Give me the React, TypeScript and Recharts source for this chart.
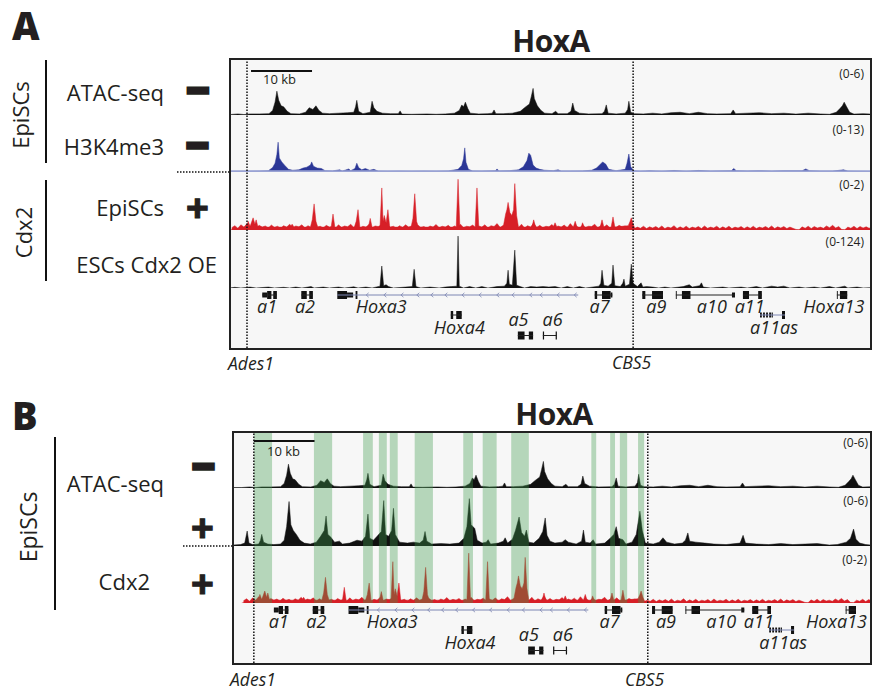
import React from 'react';
import { ComposedChart, Area, Scatter, XAxis, YAxis, ReferenceArea, ReferenceLine } from 'recharts';

// ---- data (x positions in kb from Ades1) ----

// ATAC-seq, EpiSCs, no Cdx2 (0-6)
const ATAC_MINUS: [number, number][] = [
  [-4.5, 0.05], [-2.8, 0.05], [-1.5, 0.12], [-0.5, 0.05], [0.5, 0.12], [2.0, 0.12], [3.6, 0.15], [4.2, 0.5], [4.6, 1.4],
  [4.9, 2.6], [5.2, 1.6], [5.6, 1.0], [6.0, 0.9], [6.6, 0.4], [7.2, 0.15], [8.6, 0.12], [9.6, 0.3], [10.2, 0.8],
  [10.8, 0.6], [11.3, 1.0], [11.8, 0.5], [12.4, 0.2], [13.5, 0.15], [15.0, 0.2], [16.5, 0.25], [17.5, 0.3],
  [17.8, 0.9], [18.0, 1.6], [18.3, 0.4], [19.0, 0.15], [20.2, 0.3], [20.5, 1.5], [20.8, 0.8], [21.3, 0.4],
  [22.2, 0.2], [23.5, 0.15], [24.8, 0.15], [25.1, 0.45], [25.4, 0.1], [27.0, 0.08], [29.5, 0.12], [31.0, 0.08],
  [32.5, 0.12], [34.0, 0.2], [34.8, 0.5], [35.2, 1.1], [35.5, 0.9], [35.8, 1.4], [36.2, 0.7], [36.6, 0.2],
  [38.0, 0.12], [39.5, 0.15], [40.2, 0.2], [40.5, 0.55], [40.8, 0.15], [42.0, 0.15], [43.5, 0.2], [44.8, 0.4],
  [45.5, 0.8], [46.3, 1.2], [46.6, 2.0], [46.9, 2.9], [47.1, 1.8], [47.6, 1.0], [48.2, 0.5], [48.8, 0.2],
  [50.0, 0.15], [50.6, 0.4], [51.0, 0.15], [52.5, 0.15], [53.1, 0.4], [53.4, 1.3], [53.7, 0.5], [54.5, 0.2],
  [56.0, 0.12], [58.2, 0.15], [58.6, 0.4], [58.9, 1.1], [59.2, 0.2], [60.5, 0.12], [62.0, 0.2], [62.4, 0.6],
  [62.6, 1.5], [62.9, 0.3], [63.5, 0.15], [65.0, 0.12], [66.5, 0.2], [68.0, 0.12], [69.5, 0.25], [71.0, 0.3],
  [72.5, 0.15], [74.0, 0.3], [75.5, 0.15], [77.0, 0.12], [79.3, 0.15], [79.7, 0.55], [80.1, 0.15], [82.0, 0.2],
  [84.0, 0.25], [86.0, 0.15], [88.0, 0.2], [90.0, 0.1], [92.0, 0.2], [94.0, 0.12], [95.5, 0.08], [96.6, 0.3],
  [97.2, 0.7], [97.6, 1.0], [97.9, 1.4], [98.3, 0.9], [98.8, 0.3], [99.5, 0.1], [101.0, 0.15], [102.5, 0.1],
];

// H3K4me3, EpiSCs (0-13)
const H3K4ME3: [number, number][] = [
  [-2.8, 0.1], [0, 0.15], [2.0, 0.2], [3.5, 0.3], [4.2, 1.0], [4.6, 2.0], [4.9, 4.0], [5.1, 6.8], [5.3, 3.2],
  [5.7, 2.3], [6.2, 1.5], [6.8, 0.6], [7.5, 0.4], [8.5, 0.5], [9.2, 0.9], [9.8, 1.1], [10.4, 1.6], [10.6, 2.3],
  [10.9, 1.3], [11.5, 0.9], [12.2, 0.8], [12.8, 0.3], [14.0, 0.25], [15.2, 0.5], [15.6, 0.2], [16.7, 0.7],
  [17.0, 0.3], [17.7, 0.8], [18.0, 2.0], [18.3, 1.0], [18.8, 0.5], [19.4, 0.8], [20.1, 0.4], [20.8, 0.6],
  [21.5, 0.2], [23.0, 0.15], [25.0, 0.2], [27.0, 0.15], [29.0, 0.2], [31.0, 0.15], [33.0, 0.25], [34.6, 0.6],
  [35.2, 1.5], [35.5, 3.0], [35.7, 5.5], [35.9, 2.2], [36.3, 0.6], [37.0, 0.25], [38.5, 0.2], [40.7, 0.3],
  [41.0, 0.7], [41.3, 0.25], [43.0, 0.3], [44.5, 0.5], [45.3, 1.2], [45.9, 2.6], [46.2, 4.3], [46.5, 3.8],
  [46.9, 1.6], [47.4, 0.9], [48.0, 0.6], [48.8, 0.4], [50.2, 0.3], [51.0, 0.5], [51.5, 0.2], [53.0, 0.2],
  [55.0, 0.25], [56.5, 0.4], [57.3, 0.9], [57.8, 1.6], [58.3, 2.3], [58.8, 1.8], [59.3, 0.6], [60.5, 0.3],
  [62.0, 0.6], [62.3, 2.0], [62.6, 4.1], [62.9, 1.2], [63.4, 0.3], [64.5, 0.15], [66.0, 0.3], [68.0, 0.15],
  [70.0, 0.35], [72.0, 0.15], [74.0, 0.35], [76.0, 0.2], [79.4, 0.3], [79.8, 0.8], [80.2, 0.3], [82.0, 0.25],
  [84.0, 0.3], [86.0, 0.2], [88.0, 0.3], [91.0, 0.3], [91.6, 0.7], [92.2, 0.3], [94.0, 0.2], [96.0, 0.2],
  [97.8, 0.5], [98.5, 0.2], [100.0, 0.15], [102.5, 0.1],
];

// Cdx2 ChIP in EpiSCs (0-2): background in 0.5 kb bins from -2.5 kb, then peaks
const CDX2_FLOOR_START = -2.5;
const CDX2_FLOOR_STEP = 0.5;
const CDX2_FLOOR: number[] = [
  0.08, 0.15, 0.06, 0.18, 0.1, 0.22, 0.12, 0.2, 0.08, 0.16,
  0.1, 0.14, 0.07, 0.17, 0.09, 0.13, 0.06, 0.15, 0.1, 0.2,
  0.08, 0.14, 0.11, 0.18, 0.07, 0.15, 0.09, 0.2, 0.1, 0.13,
  0.07, 0.16, 0.1, 0.12, 0.06, 0.18, 0.09, 0.14, 0.11, 0.2,
  0.09, 0.15, 0.07, 0.13, 0.1, 0.19, 0.08, 0.14, 0.12, 0.17,
  0.08, 0.16, 0.1, 0.13, 0.06, 0.15, 0.09, 0.18, 0.1, 0.14,
  0.07, 0.17, 0.09, 0.12, 0.06, 0.14, 0.1, 0.19, 0.08, 0.13,
  0.1, 0.16, 0.07, 0.14, 0.09, 0.2, 0.08, 0.13, 0.11, 0.17,
  0.08, 0.14, 0.1, 0.18, 0.07, 0.15, 0.12, 0.22, 0.09, 0.16,
  0.1, 0.18, 0.08, 0.14, 0.09, 0.2, 0.07, 0.15, 0.1, 0.24,
  0.09, 0.16, 0.08, 0.13, 0.11, 0.19, 0.07, 0.14, 0.1, 0.17,
  0.08, 0.22, 0.1, 0.14, 0.07, 0.16, 0.09, 0.13, 0.12, 0.2,
  0.08, 0.15, 0.1, 0.18, 0.07, 0.13, 0.09, 0.16, 0.11, 0.14,
  0.07, 0.12, 0.05, 0.1, 0.06, 0.13, 0.05, 0.11, 0.07, 0.12,
  0.06, 0.14, 0.05, 0.1, 0.07, 0.15, 0.05, 0.11, 0.06, 0.13,
  0.05, 0.1, 0.07, 0.12, 0.05, 0.14, 0.06, 0.1, 0.07, 0.13,
  0.05, 0.11, 0.06, 0.13, 0.05, 0.1, 0.07, 0.12, 0.05, 0.11,
  0.06, 0.13, 0.05, 0.1, 0.07, 0.12, 0.06, 0.14, 0.05, 0.11,
  0.07, 0.12, 0.05, 0.1, 0.06, 0.02, 0.01, 0.11, 0.06, 0.13,
  0.05, 0.12, 0.07, 0.1, 0.06, 0.14, 0.08, 0.16, 0.07, 0.12,
  0.02, 0.01, 0.1, 0.06, 0.13, 0.05, 0.12, 0.07, 0.11, 0.06,
  0.12, 0.08,
];
const CDX2_PEAKS: [number, number][] = [
  [-2.8, 0], [-0.1, 0.1], [0.2, 0.3], [0.5, 0.12], [1.0, 0.42], [1.3, 0.2], [1.5, 0.35], [1.8, 0.1],
  [7.1, 0.1], [7.4, 0.2], [7.7, 0.1], [10.4, 0.1], [10.7, 0.35], [11.0, 0.9], [11.3, 0.3], [11.6, 0.1],
  [13.8, 0.1], [14.1, 0.55], [14.4, 0.1], [17.6, 0.1], [17.9, 0.3], [18.2, 0.7], [18.5, 0.1],
  [19.9, 0.1], [20.2, 0.4], [20.5, 0.1], [21.8, 0.1], [22.1, 1.45], [22.3, 0.3], [22.5, 0.5], [22.8, 0.25],
  [23.1, 0.7], [23.4, 0.1], [26.9, 0.1], [27.2, 0.4], [27.5, 1.25], [27.8, 0.3], [28.1, 0.1],
  [34.3, 0.1], [34.6, 1.75], [34.9, 0.1], [37.4, 0.1], [37.7, 1.45], [38.0, 0.1],
  [42.0, 0.1], [42.4, 0.55], [42.6, 0.7], [42.8, 0.95], [43.1, 0.6], [43.4, 0.5], [43.7, 0.7], [43.9, 1.6],
  [44.2, 0.5], [44.5, 0.1], [46.7, 0.1], [47.0, 0.35], [47.3, 0.1], [50.2, 0.1], [50.5, 0.25], [50.8, 0.1],
  [53.5, 0.1], [53.8, 0.3], [54.1, 0.1], [54.8, 0.1], [55.0, 0.25], [55.3, 0.1], [57.9, 0.1], [58.2, 0.35],
  [58.5, 0.1], [59.7, 0.1], [60.0, 0.45], [60.3, 0.1], [62.5, 0.15], [62.8, 0.3], [63.0, 0.42], [63.3, 0.2],
  [63.6, 0.05], [64.0, 0], [102.5, 0],
];

// Cdx2 ChIP in ESCs, Cdx2 overexpression (0-124)
const CDX2_OE: [number, number][] = [
  [-2.8, 0], [-2, 1.5], [-1, 0], [0.5, 2], [1.5, 0], [3.5, 2], [4.5, 0], [6, 1.5], [7, 0], [8, 2], [9, 0],
  [10.5, 3], [11, 0], [12.5, 2], [13.5, 0], [15, 2], [16, 0], [17.5, 2.5], [18.2, 0], [19.5, 2], [20.5, 0],
  [21.8, 4], [22.1, 47], [22.4, 5], [22.8, 7], [23.2, 3], [24, 0], [26, 2], [27.1, 3], [27.4, 40], [27.7, 3],
  [28.5, 0], [30, 2], [31.5, 0], [32.5, 2], [33.5, 3], [34.4, 4], [34.6, 111], [34.8, 4], [35.5, 0], [36.5, 3],
  [37.5, 0], [38.5, 3], [39.5, 0], [41, 3], [42.2, 4], [42.6, 10], [42.8, 38], [43.0, 8], [43.5, 6], [43.9, 81],
  [44.2, 6], [44.8, 3], [45.5, 0], [46.5, 3], [47.5, 2], [48.5, 3], [49.5, 2], [50.5, 3], [51.5, 0], [52.5, 3],
  [53.5, 0], [54.5, 3], [55.5, 0], [57.7, 4], [58.0, 10], [58.2, 38], [58.5, 6], [59.2, 4], [59.8, 10],
  [60.0, 49], [60.3, 5], [61.2, 3], [61.6, 10], [61.8, 19], [62.0, 4], [62.7, 8], [63.0, 51], [63.3, 10],
  [64.0, 3], [64.6, 11], [64.9, 2], [65.5, 3], [66.5, 2], [67.5, 0], [68.5, 2], [69.5, 0], [71.5, 3], [72.5, 7],
  [73.0, 2], [74.2, 5], [74.5, 11], [74.8, 2], [76, 0], [78, 2], [79, 0], [81, 2], [82, 0], [83.5, 3], [84.5, 0],
  [86, 4], [87, 2], [88, 4], [89, 0], [90.5, 2], [91.5, 0], [93, 2], [94, 0], [95.5, 3], [96.5, 0], [98, 4],
  [98.5, 0], [100, 2], [101, 0], [102.5, 1],
];

// ATAC-seq, EpiSCs with Cdx2 (0-6)
const ATAC_PLUS: [number, number][] = [
  [-4.5, 0.1], [-3, 0.15], [-2.3, 0.3], [-1.9, 1.55], [-1.6, 0.3], [-1, 0.15], [0, 0.2], [0.3, 0.6], [0.5, 1.2],
  [0.8, 0.4], [1.5, 0.2], [2.5, 0.15], [3.6, 0.2], [4.2, 0.6], [4.6, 2.0], [5.0, 4.6], [5.3, 2.2], [5.7, 1.6],
  [6.2, 1.2], [6.8, 0.6], [7.5, 0.3], [8.5, 0.2], [9.5, 0.4], [10.2, 1.0], [10.8, 1.6], [11.1, 3.1], [11.4, 1.2],
  [11.9, 0.9], [12.5, 0.4], [13.3, 0.5], [13.8, 0.2], [15, 0.3], [16.2, 0.6], [17.0, 0.5], [17.6, 1.0],
  [18.0, 3.3], [18.3, 0.8], [18.9, 0.6], [19.5, 1.0], [20.2, 1.5], [20.6, 4.7], [20.9, 1.2], [21.4, 1.0],
  [21.9, 1.6], [22.2, 3.9], [22.5, 1.2], [23.2, 0.4], [24.5, 0.3], [25.5, 0.4], [26.5, 0.3], [27.1, 0.6],
  [27.4, 1.5], [27.7, 0.5], [28.5, 0.2], [30, 0.25], [31.5, 0.2], [33.0, 0.3], [33.8, 0.8], [34.3, 2.0],
  [34.7, 4.9], [35.0, 2.2], [35.6, 1.8], [36.0, 0.6], [36.8, 0.3], [37.5, 0.4], [37.8, 0.65], [38.2, 0.2],
  [39.5, 0.3], [40.3, 0.5], [40.6, 0.85], [41.0, 0.3], [41.8, 0.7], [42.3, 1.6], [42.9, 3.0], [43.3, 1.4],
  [43.8, 1.0], [44.1, 1.65], [44.5, 0.4], [45.3, 0.3], [46.2, 0.8], [46.8, 1.5], [47.2, 2.9], [47.5, 1.1],
  [48.0, 0.5], [48.8, 0.3], [50.0, 0.4], [50.5, 0.65], [51.0, 0.4], [52.3, 0.2], [53.2, 0.5], [53.5, 1.65],
  [53.8, 0.4], [54.6, 0.3], [55.1, 0.65], [55.5, 0.2], [57.0, 0.3], [57.9, 0.8], [58.5, 1.2], [58.9, 2.0],
  [59.3, 0.8], [60.0, 0.65], [60.5, 0.2], [61.5, 0.4], [62.2, 1.2], [62.5, 2.4], [62.8, 3.6], [63.2, 1.6],
  [63.7, 0.3], [65.0, 0.2], [66.0, 0.4], [66.6, 0.85], [67.2, 0.4], [68.5, 0.2], [69.8, 0.3], [70.3, 0.6],
  [70.7, 1.35], [71.0, 0.5], [72.0, 0.4], [73.5, 0.3], [75, 0.2], [77, 0.15], [79.3, 0.3], [79.8, 1.1],
  [80.2, 0.3], [82, 0.2], [84, 0.15], [86, 0.25], [88, 0.15], [90, 0.2], [92, 0.25], [94, 0.1], [95.3, 0.15],
  [96.8, 0.4], [97.5, 0.8], [98.0, 1.75], [98.4, 0.7], [99, 0.3], [100, 0.15], [101, 0.1],
];

// Cdx2-bound regions highlighted in panel B [from, to]
const HIGHLIGHTS: [number, number][] = [
  [-0.8, 2.2], [9.1, 12.1], [17.2, 18.8], [19.8, 21.1], [21.6, 22.9], [25.7, 28.7], [33.7, 35.3],
  [36.9, 39.2], [41.6, 44.5], [54.8, 55.6], [57.9, 58.7], [59.5, 60.7], [62.5, 63.5],
];

const LANDMARKS_A = { Ades1: 0, CBS5: 63.3 };
const LANDMARKS_B = { Ades1: -0.8, CBS5: 64.1 };
const SCALE_BAR_KB = 10;

// gene models: row, extent, blocks [from, to, kind] (c coding, u utr, t tick)
const GENES = [
  { name: 'a1', row: 0, from: 2.5, to: 4.9, exons: [[2.5, 3.3, 'u'], [3.3, 4.0, 'c'], [4.3, 4.9, 'c']] },
  { name: 'a2', row: 0, from: 8.9, to: 10.8, exons: [[8.9, 9.8, 'c'], [10.2, 10.8, 'c']] },
  { name: 'Hoxa3', row: 0, from: 14.8, to: 54.3, exons: [[14.8, 16.4, 'c'], [16.4, 17.4, 'u'], [17.8, 18.1, 'c']] },
  { name: 'Hoxa4', row: 1, from: 33.4, to: 35.2, exons: [[33.4, 33.8, 'c'], [34.3, 35.2, 'c']] },
  { name: 'a5', row: 2, from: 44.4, to: 46.9, exons: [[44.4, 45.5, 'c'], [46.2, 46.9, 'c']] },
  { name: 'a6', row: 2, from: 48.5, to: 50.8, exons: [[48.5, 48.7, 't'], [50.6, 50.8, 't']] },
  { name: 'a7', row: 0, from: 57.0, to: 59.9, exons: [[57.0, 57.4, 'c'], [58.2, 59.6, 'c'], [59.6, 59.9, 'u']] },
  { name: 'a9', row: 0, from: 64.8, to: 68.2, exons: [[64.8, 65.3, 'c'], [66.4, 68.2, 'c']] },
  { name: 'a10', row: 0, from: 70.3, to: 80.0, exons: [[70.3, 70.45, 't'], [71.3, 72.7, 'c'], [79.5, 80.0, 'u']] },
  { name: 'a11', row: 0, from: 81.3, to: 84.4, exons: [[81.3, 82.3, 'c'], [83.8, 84.4, 'c']] },
  { name: 'a11as', row: 1, from: 84.1, to: 88.2, exons: [[84.1, 84.4, 'u'], [84.6, 84.9, 'u'], [85.1, 85.4, 'u'], [85.6, 85.9, 'u'], [86.0, 86.2, 'u'], [87.7, 88.2, 'c']] },
  { name: 'Hoxa13', row: 0, from: 96.7, to: 98.4, exons: [[96.7, 96.85, 't'], [97.2, 98.4, 'c']] },
];
const HOXA3_ARROWS = [19.7, 22.6, 25.4, 28.0, 30.3, 32.6, 35.4, 38.2, 41.1, 43.6, 46.5, 48.2, 51.0, 53.8];
const GENE_LABELS = [
  { name: 'a1', x: 3.3, lane: 0 }, { name: 'a2', x: 9.5, lane: 0 }, { name: 'Hoxa3', x: 22.0, lane: 0 },
  { name: 'Hoxa4', x: 34.8, lane: 1 }, { name: 'a5', x: 44.5, lane: 2 }, { name: 'a6', x: 50.1, lane: 2 },
  { name: 'a7', x: 57.8, lane: 0 }, { name: 'a9', x: 67.1, lane: 0 }, { name: 'a10', x: 76.2, lane: 0 },
  { name: 'a11', x: 82.4, lane: 0 }, { name: 'a11as', x: 86.4, lane: 1 }, { name: 'Hoxa13', x: 96.2, lane: 0 },
];

// ---- layout / style ----
const FONT = '"Open Sans", "DejaVu Sans", sans-serif';
const INK = '#231f20';
const RED = '#d71f27';
const BLUE = '#2b3797';
const ROW_Y = [7, 27, 47.5];
const LANE_BASE = [25, 46, 38];
const EXON_H: Record<string, number> = { c: 8, u: 5, t: 8 };
const THIN_GENES = ['Hoxa3', 'a11as'];
const NOMARGIN = { top: 0, right: 0, bottom: 0, left: 0 };
const LABEL_PX = 18;

const pts = (a: [number, number][]) => a.map(([x, y]) => ({ x, y }));
const CDX2_FLOOR_PTS = CDX2_FLOOR.map((y, i) => ({ x: CDX2_FLOOR_START + i * CDX2_FLOOR_STEP, y }));

const PANEL_A = {
  left: 231, right: 870, top: 60, bottom: 348, px0: 247, ppk: 6.1, marks: LANDMARKS_A,
  scaleStart: 0.66, scaleY: 11, bandBottom: 0,
  tracks: [
    { top: 60, bottom: 115, yMax: 6, series: [{ data: pts(ATAC_MINUS), color: '#111' }] },
    { top: 115, bottom: 172, yMax: 13, series: [{ data: pts(H3K4ME3), color: BLUE }], base: '#9aa3d4' },
    { top: 172, bottom: 230, yMax: 2, series: [{ data: CDX2_FLOOR_PTS, color: RED }, { data: pts(CDX2_PEAKS), color: RED }] },
    { top: 230, bottom: 288, yMax: 124, series: [{ data: pts(CDX2_OE), color: '#111' }] },
  ],
  genesTop: 288,
};
const PANEL_B = {
  left: 234, right: 870, top: 433, bottom: 663, px0: 258.7, ppk: 6.07, marks: LANDMARKS_B,
  scaleStart: -0.8, scaleY: 8, bandBottom: 170,
  tracks: [
    { top: 433, bottom: 488, yMax: 6, series: [{ data: pts(ATAC_MINUS), color: '#111' }] },
    { top: 488, bottom: 546, yMax: 6, series: [{ data: pts(ATAC_PLUS), color: '#111' }] },
    { top: 546, bottom: 603, yMax: 2, series: [{ data: CDX2_FLOOR_PTS, color: RED }, { data: pts(CDX2_PEAKS), color: RED }] },
  ],
  genesTop: 603,
};

type PanelT = typeof PANEL_A;

const domainOf = (p: PanelT): [number, number] => [(p.left - p.px0) / p.ppk, (p.right - p.px0) / p.ppk];

function Track({ p, t }: { p: PanelT; t: any }) {
  const dom = domainOf(p);
  return (
    <div style={{ position: 'absolute', left: p.left, top: t.top }}>
      <ComposedChart width={p.right - p.left} height={t.bottom - t.top} margin={NOMARGIN}>
        <XAxis type="number" dataKey="x" domain={dom} hide allowDataOverflow />
        <YAxis type="number" domain={[0, t.yMax]} hide allowDataOverflow />
        {t.base && <ReferenceLine y={t.yMax * 0.015} stroke={t.base} strokeWidth={2} />}
        {t.series.map((s: any, i: number) => (
          <Area key={i} data={s.data} dataKey="y" type="linear" stroke={s.color} strokeWidth={0.5}
            fill={s.color} fillOpacity={1} dot={false} activeDot={false} isAnimationActive={false} />
        ))}
      </ComposedChart>
    </div>
  );
}

// italic gene name; kept inside the box when it would run past the right edge
const makeGeneLabel = (chartW: number) => (props: any) => {
  const name: string = props.payload.name;
  const half = name.length * LABEL_PX * 0.29;
  const atEdge = props.cx + half > chartW - 2;
  return (
    <text x={atEdge ? chartW - 3 : props.cx} y={props.cy} textAnchor={atEdge ? 'end' : 'middle'}
      fontFamily={FONT} fontStyle="italic" fontSize={LABEL_PX} fill={INK}>
      {name}
    </text>
  );
};
const chevron = (props: any) => (
  <path d={`M${props.cx + 1.5},${props.cy - 2.2}L${props.cx - 1},${props.cy}L${props.cx + 1.5},${props.cy + 2.2}`}
    stroke="#7d86b3" strokeWidth={0.8} fill="none" />
);

function Genes({ p }: { p: PanelT }) {
  const dom = domainOf(p);
  const w = p.right - p.left;
  const h = p.bottom - p.genesTop;
  const labels = GENE_LABELS.map((l) => ({ x: l.x, y: LANE_BASE[l.lane], name: l.name }));
  const arrows = HOXA3_ARROWS.map((x) => ({ x, y: ROW_Y[0] }));
  return (
    <div style={{ position: 'absolute', left: p.left, top: p.genesTop }}>
      <ComposedChart width={w} height={h} margin={NOMARGIN}>
        <XAxis type="number" dataKey="x" domain={dom} hide allowDataOverflow />
        <YAxis type="number" dataKey="y" domain={[0, h]} reversed hide allowDataOverflow />
        {GENES.map((g) => (
          <ReferenceLine key={g.name} segment={[{ x: g.from, y: ROW_Y[g.row] }, { x: g.to, y: ROW_Y[g.row] }]}
            stroke={THIN_GENES.includes(g.name) ? '#7d86b3' : '#222'} strokeWidth={1} />
        ))}
        {GENES.flatMap((g) =>
          g.exons.map(([a, b, k]: any, i: number) => (
            <ReferenceArea key={g.name + i} x1={a} x2={b} y1={ROW_Y[g.row] - EXON_H[k] / 2} y2={ROW_Y[g.row] + EXON_H[k] / 2}
              fill="#111" fillOpacity={1} stroke="none" />
          ))
        )}
        <Scatter data={arrows} dataKey="y" shape={chevron} isAnimationActive={false} />
        <Scatter data={labels} dataKey="y" shape={makeGeneLabel(w)} isAnimationActive={false} />
      </ComposedChart>
    </div>
  );
}

function Overlay({ p, bands }: { p: PanelT; bands: [number, number][] }) {
  const dom = domainOf(p);
  const h = p.bottom - p.top;
  return (
    <div style={{ position: 'absolute', left: p.left, top: p.top }}>
      <ComposedChart width={p.right - p.left} height={h} margin={NOMARGIN} data={[{ x: dom[0], y: 0 }, { x: dom[1], y: h }]}>
        <XAxis type="number" dataKey="x" domain={dom} hide allowDataOverflow />
        <YAxis type="number" dataKey="y" domain={[0, h]} reversed hide allowDataOverflow />
        {bands.map(([a, b], i) => (
          <ReferenceArea key={i} x1={a} x2={b} y1={0} y2={p.bandBottom} fill="#3f9a4e" fillOpacity={0.36} stroke="none" />
        ))}
        <ReferenceLine x={p.marks.Ades1} stroke="#111" strokeWidth={1.5} strokeDasharray="1.5 1.5" />
        <ReferenceLine x={p.marks.CBS5} stroke="#111" strokeWidth={1.5} strokeDasharray="1.5 1.5" />
        <ReferenceLine segment={[{ x: p.scaleStart, y: p.scaleY }, { x: p.scaleStart + SCALE_BAR_KB, y: p.scaleY }]}
          stroke="#111" strokeWidth={2} />
      </ComposedChart>
    </div>
  );
}

function Minus({ x, y }: { x: number; y: number }) {
  return (
    <text x={x} y={y + 14} textAnchor="middle" fontFamily={FONT} fontWeight={800} fontSize={40}
      fill={INK} stroke={INK} strokeWidth={3}>−</text>
  );
}
function Plus({ x, y }: { x: number; y: number }) {
  return (
    <text x={x} y={y + 14} textAnchor="middle" fontFamily={FONT} fontWeight={700} fontSize={40}
      fill={INK} stroke={INK} strokeWidth={1.2}>+</text>
  );
}

function Labels() {
  const t = { fontFamily: FONT, fill: INK } as const;
  return (
    <svg width={872} height={691} style={{ position: 'absolute', left: 0, top: 0 }}>
      {/* panel A */}
      <rect x={230} y={59} width={641} height={290} fill="none" stroke="#222" strokeWidth={2} />
      <text {...t} x={12} y={40} fontSize={38} fontWeight={800}>A</text>
      <text {...t} x={551} y={52} fontSize={30} fontWeight={700} textAnchor="middle" letterSpacing={-0.5}>HoxA</text>
      <text {...t} fontSize={22} textAnchor="middle" transform="translate(29,115) rotate(-90)">EpiSCs</text>
      <text {...t} fontSize={22} textAnchor="middle" transform="translate(32,232.5) rotate(-90)">Cdx2</text>
      <line x1={46} y1={60} x2={46} y2={163} stroke="#111" strokeWidth={2} />
      <line x1={46} y1={180} x2={46} y2={281} stroke="#111" strokeWidth={2} />
      <text {...t} fontSize={22} x={164} y={101} textAnchor="end">ATAC-seq</text>
      <text {...t} fontSize={22} x={164} y={155} textAnchor="end">H3K4me3</text>
      <text {...t} fontSize={22} x={164} y={216} textAnchor="end">EpiSCs</text>
      <text {...t} fontSize={22} x={217} y={273} textAnchor="end">ESCs Cdx2 OE</text>
      <Minus x={198} y={90.5} />
      <Minus x={197.5} y={146} />
      <Plus x={197.5} y={208} />
      <line x1={177} y1={172} x2={229} y2={172} stroke="#111" strokeWidth={1.5} strokeDasharray="1.5 1.5" />
      <text {...t} fontSize={13} x={263} y={84}>10 kb</text>
      <text {...t} fontSize={12} x={864} y={78} textAnchor="end">(0-6)</text>
      <text {...t} fontSize={12} x={864} y={134} textAnchor="end">(0-13)</text>
      <text {...t} fontSize={12} x={864} y={189} textAnchor="end">(0-2)</text>
      <text {...t} fontSize={12} x={864} y={246} textAnchor="end">(0-124)</text>
      <text {...t} fontSize={17.5} fontStyle="italic" x={228} y={370}>Ades1</text>
      <text {...t} fontSize={17.5} fontStyle="italic" x={612} y={369}>CBS5</text>

      {/* panel B */}
      <rect x={233} y={432} width={638} height={232} fill="none" stroke="#222" strokeWidth={2} />
      <text {...t} x={12} y={430} fontSize={38} fontWeight={800}>B</text>
      <text {...t} x={554} y={425} fontSize={30} fontWeight={700} textAnchor="middle" letterSpacing={-0.5}>HoxA</text>
      <text {...t} fontSize={23} textAnchor="middle" transform="translate(37,527) rotate(-90)">EpiSCs</text>
      <line x1={55} y1={437} x2={55} y2={610} stroke="#111" strokeWidth={2} />
      <text {...t} fontSize={22} x={164} y={492} textAnchor="end">ATAC-seq</text>
      <text {...t} fontSize={22} x={150} y={590} textAnchor="end">Cdx2</text>
      <Minus x={203.5} y={466.5} />
      <Plus x={202.5} y={528} />
      <Plus x={202.5} y={583.5} />
      <line x1={183} y1={546} x2={232} y2={546} stroke="#111" strokeWidth={1.5} strokeDasharray="1.5 1.5" />
      <text {...t} fontSize={13} x={267} y={456}>10 kb</text>
      <text {...t} fontSize={12} x={868} y={447} textAnchor="end">(0-6)</text>
      <text {...t} fontSize={12} x={868} y={505} textAnchor="end">(0-6)</text>
      <text {...t} fontSize={12} x={867} y={564} textAnchor="end">(0-2)</text>
      <text {...t} fontSize={17.5} fontStyle="italic" x={230} y={686}>Ades1</text>
      <text {...t} fontSize={17.5} fontStyle="italic" x={625} y={686}>CBS5</text>
    </svg>
  );
}

function Panel({ p, bands }: { p: PanelT; bands: [number, number][] }) {
  return (
    <>
      <div style={{ position: 'absolute', left: p.left, top: p.top, width: p.right - p.left, height: p.bottom - p.top, background: '#f7f7f7' }} />
      {p.tracks.map((t, i) => <Track key={i} p={p} t={t} />)}
      <Genes p={p} />
      <Overlay p={p} bands={bands} />
    </>
  );
}

export default function App() {
  return (
    <div style={{ position: 'absolute', left: 0, top: 0, width: 872, height: 691, background: '#fff', overflow: 'hidden', fontFamily: FONT }}>
      <Panel p={PANEL_A} bands={[]} />
      <Panel p={PANEL_B} bands={HIGHLIGHTS} />
      <Labels />
    </div>
  );
}
